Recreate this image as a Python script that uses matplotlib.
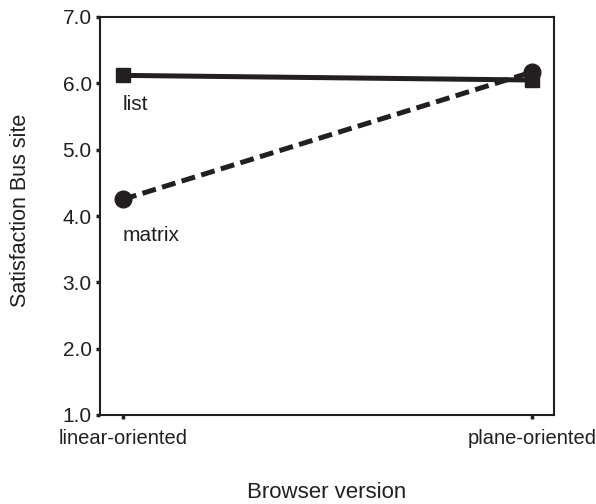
import matplotlib
matplotlib.use("Agg")
import matplotlib.pyplot as plt

categories = ["linear-oriented", "plane-oriented"]
list_values = [6.12, 6.05]
matrix_values = [4.25, 6.17]
yticks = [1.0, 2.0, 3.0, 4.0, 5.0, 6.0, 7.0]

plt.rcParams['font.family'] = ['Liberation Sans', 'DejaVu Sans']
FS = 15
INK = '#231f20'

fig = plt.figure(figsize=(5.96, 5.04), dpi=100)
ax = fig.add_axes([100/596, 1-415/504, 454/596, 398/504])

x = list(range(len(categories)))
ax.plot(x, list_values, color=INK, lw=3.6, marker='s', markersize=9.5, solid_capstyle='butt')
ax.plot(x, matrix_values, color=INK, lw=3.6, ls=(0, (2.8, 1.3)), marker='o', markersize=12)

ax.annotate("list", xy=(0, list_values[0]), xytext=(0, -14), textcoords='offset points',
            fontsize=FS, ha='left', va='top', color=INK)
ax.annotate("matrix", xy=(0, matrix_values[0]), xytext=(0, -19), textcoords='offset points',
            fontsize=FS, ha='left', va='top', color=INK)

ax.set_xlim(-0.056, 1.054)
ax.set_ylim(1.0, 7.0)
ax.set_xticks(x)
ax.set_xticklabels(categories, fontsize=14.5)
ax.set_yticks(yticks)
ax.set_yticklabels([f"{v:.1f}" for v in yticks], fontsize=FS)
ax.tick_params(direction='out', length=3, width=2.5, color=INK, pad=3, labelcolor=INK)
ax.tick_params(axis='x', pad=7)
for s in ax.spines.values():
    s.set_linewidth(1.5)
    s.set_color(INK)
ax.set_xlabel("Browser version", fontsize=16, color=INK)
ax.xaxis.set_label_coords(0.5, -0.168)
ax.xaxis.label.set_va('top')
ax.set_ylabel("Satisfaction Bus site", fontsize=15.5, color=INK)
ax.yaxis.set_label_coords(-0.152, 0.515)

fig.savefig("out.png", dpi=100)
